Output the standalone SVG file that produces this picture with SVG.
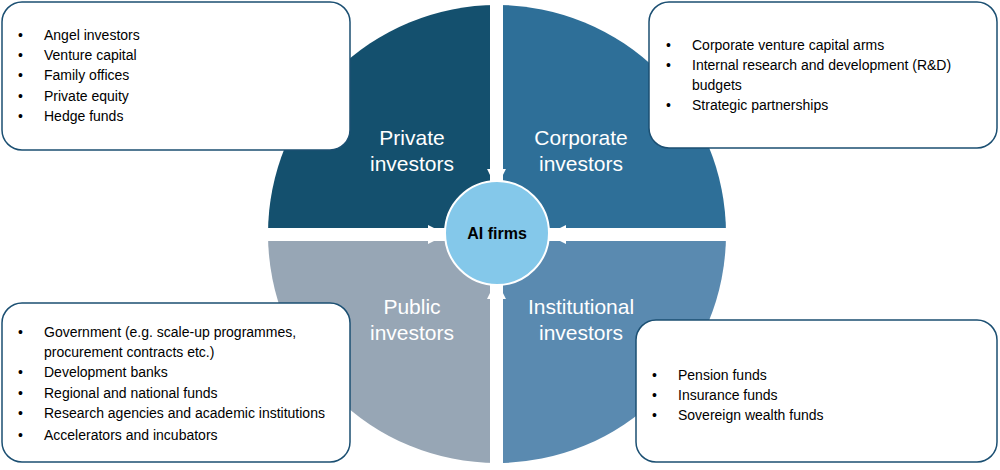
<svg xmlns="http://www.w3.org/2000/svg" width="1000" height="470" viewBox="0 0 1000 470">
<style>
.q{font-family:"Liberation Sans",Arial,sans-serif;font-size:21px;fill:#fff;text-anchor:middle}
.t{font-family:"Liberation Sans",Arial,sans-serif;font-size:14px;fill:#000}
.box{fill:#fff;stroke:#1b4f72;stroke-width:1.5}
</style>
<defs>
<marker id="ah" viewBox="0 0 10 10" refX="9" refY="5" markerWidth="3.2" markerHeight="3.2" orient="auto" markerUnits="strokeWidth"><path d="M0,0 L10,5 L0,10 z" fill="#fff"/></marker>
</defs>
<g id="quadrants">
<path d="M497,234 L268,234 A229,229 0 0 1 497,5 Z" fill="#14506e"/>
<path d="M497,234 L497,5 A229,229 0 0 1 726,234 Z" fill="#2e6f98"/>
<path d="M497,234 L497,463 A229,229 0 0 1 268,234 Z" fill="#97a6b5"/>
<path d="M497,234 L726,234 A229,229 0 0 1 497,463 Z" fill="#5a8ab0"/>
<rect x="490" y="0" width="13" height="470" fill="#fff"/>
<rect x="260" y="228" width="480" height="13" fill="#fff"/>
</g>
<g id="connectors" stroke="#fff" stroke-width="6" fill="none">
<line x1="496.5" y1="150" x2="496.5" y2="186" marker-end="url(#ah)"/>
<line x1="496.5" y1="318" x2="496.5" y2="282" marker-end="url(#ah)"/>
<line x1="400" y1="234.5" x2="445" y2="234.5" marker-end="url(#ah)"/>
<line x1="595" y1="234.5" x2="549" y2="234.5" marker-end="url(#ah)"/>
</g>
<g id="center"><circle cx="497" cy="233" r="52" fill="#84c8ea" stroke="#fff" stroke-width="2"/>
<text x="497" y="239" font-family="Liberation Sans Narrow,Liberation Sans,Arial,sans-serif" font-size="16" font-weight="bold" text-anchor="middle">AI firms</text></g>
<g id="private"><text class="q" x="412" y="145">Private</text><text class="q" x="412" y="171">investors</text></g>
<g id="corporate"><text class="q" x="581" y="145">Corporate</text><text class="q" x="581" y="171">investors</text></g>
<g id="public"><text class="q" x="412" y="314">Public</text><text class="q" x="412" y="340">investors</text></g>
<g id="institutional"><text class="q" x="581" y="314">Institutional</text><text class="q" x="581" y="340">investors</text></g>
<g id="box-private"><rect class="box" x="2" y="2" width="348" height="148" rx="20"/>
<text class="t"><tspan x="18" y="40">•</tspan><tspan x="44" y="40">Angel investors</tspan><tspan x="18" y="60">•</tspan><tspan x="44" y="60">Venture capital</tspan><tspan x="18" y="80">•</tspan><tspan x="44" y="80">Family offices</tspan><tspan x="18" y="101">•</tspan><tspan x="44" y="101">Private equity</tspan><tspan x="18" y="121">•</tspan><tspan x="44" y="121">Hedge funds</tspan></text></g>
<g id="box-corporate"><rect class="box" x="649" y="2" width="348" height="146" rx="20"/>
<text class="t"><tspan x="666" y="50">•</tspan><tspan x="692" y="50">Corporate venture capital arms</tspan><tspan x="666" y="70">•</tspan><tspan x="692" y="70">Internal research and development (R&amp;D)</tspan><tspan x="692" y="90">budgets</tspan><tspan x="666" y="110">•</tspan><tspan x="692" y="110">Strategic partnerships</tspan></text></g>
<g id="box-public"><rect class="box" x="2" y="303" width="348" height="159" rx="20"/>
<text class="t"><tspan x="18" y="337">•</tspan><tspan x="44" y="337">Government (e.g. scale-up programmes,</tspan><tspan x="44" y="357">procurement contracts etc.)</tspan><tspan x="18" y="377">•</tspan><tspan x="44" y="377">Development banks</tspan><tspan x="18" y="398">•</tspan><tspan x="44" y="398">Regional and national funds</tspan><tspan x="18" y="418">•</tspan><tspan x="44" y="418">Research agencies and academic institutions</tspan><tspan x="18" y="440">•</tspan><tspan x="44" y="440">Accelerators and incubators</tspan></text></g>
<g id="box-institutional"><rect class="box" x="636" y="320" width="361" height="142" rx="20"/>
<text class="t"><tspan x="652" y="380">•</tspan><tspan x="678" y="380">Pension funds</tspan><tspan x="652" y="400">•</tspan><tspan x="678" y="400">Insurance funds</tspan><tspan x="652" y="420">•</tspan><tspan x="678" y="420">Sovereign wealth funds</tspan></text></g>
</svg>
